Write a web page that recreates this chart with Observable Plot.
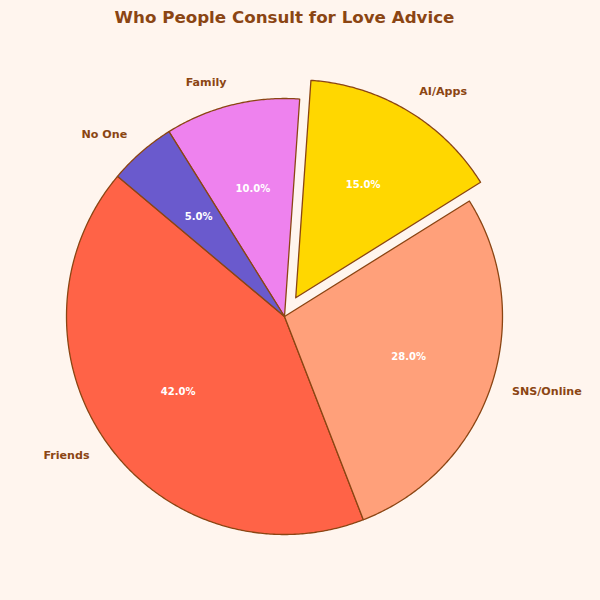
<!DOCTYPE html>
<html>
<head>
<meta charset="utf-8">
<script src="https://cdn.jsdelivr.net/npm/d3@7"></script>
<script src="https://cdn.jsdelivr.net/npm/@observablehq/plot@0.6"></script>
<style>
  html, body { margin: 0; padding: 0; background: #FFF5EE; }
  #chart svg { display: block; background: #FFF5EE; }
</style>
</head>
<body>
<div id="chart"></div>
<script>
const title = "Who People Consult for Love Advice";
const categories = ["Friends", "SNS/Online", "AI/Apps", "Family", "No One"];
const values = [42, 28, 15, 10, 5];
const explode = [0, 0, 0.1, 0, 0];
const colors = ["#FF6347", "#FFA07A", "#FFD700", "#EE82EE", "#6A5ACD"];
const startAngle = 140; // degrees, counter-clockwise from east

const total = d3.sum(values);
const slices = [];
let a = startAngle;
categories.forEach((name, i) => {
  const sweep = values[i] / total * 360;
  const a0 = a, a1 = a + sweep, mid = (a0 + a1) / 2;
  const rad = mid * Math.PI / 180;
  const ox = explode[i] * Math.cos(rad), oy = explode[i] * Math.sin(rad);
  slices.push({name, value: values[i], color: colors[i], a0, a1, mid, ox, oy});
  a = a1;
});

const polyPts = [];
slices.forEach(s => {
  polyPts.push({name: s.name, color: s.color, x: s.ox, y: s.oy});
  const n = Math.max(8, Math.ceil((s.a1 - s.a0) / 0.5));
  for (let k = 0; k <= n; k++) {
    const t = (s.a0 + (s.a1 - s.a0) * k / n) * Math.PI / 180;
    polyPts.push({name: s.name, color: s.color, x: s.ox + Math.cos(t), y: s.oy + Math.sin(t)});
  }
  polyPts.push({name: s.name, color: s.color, x: s.ox, y: s.oy});
});

const labels = slices.map(s => {
  const r = s.mid * Math.PI / 180;
  return {
    name: s.name,
    pct: (s.value / total * 100).toFixed(1) + "%",
    lx: s.ox + 1.1 * Math.cos(r), ly: s.oy + 1.1 * Math.sin(r),
    px: s.ox + 0.6 * Math.cos(r), py: s.oy + 0.6 * Math.sin(r),
    right: Math.cos(r) >= 0
  };
});

const W = 600, H = 600, R = 218, cx = 284, cy = 316;
const font = "DejaVu Sans, Liberation Sans, sans-serif";

const plot = Plot.plot({
  width: W, height: H,
  margin: 0,
  style: {background: "#FFF5EE", fontFamily: font},
  x: {domain: [-cx / R, (W - cx) / R], axis: null},
  y: {domain: [-(H - cy) / R, cy / R], axis: null},
  color: {type: "identity"},
  marks: [
    Plot.line(polyPts, {x: "x", y: "y", z: "name", fill: "color", stroke: "#8B4513", strokeWidth: 1.3, strokeLinejoin: "round", curve: "linear"}),
    Plot.text(labels.filter(d => d.right), {x: "lx", y: "ly", text: "name", textAnchor: "start", fill: "#8B4513", fontWeight: "bold", fontSize: 11.1, dy: -1}),
    Plot.text(labels.filter(d => !d.right), {x: "lx", y: "ly", text: "name", textAnchor: "end", fill: "#8B4513", fontWeight: "bold", fontSize: 11.1, dy: -1}),
    Plot.text(labels, {x: "px", y: "py", text: "pct", fill: "white", fontWeight: "bold", fontSize: 10, dy: -0.5}),
    Plot.text([title], {x: 0, frameAnchor: "top", dy: 17, lineAnchor: "middle", text: d => d, fill: "#8B4513", fontWeight: "bold", fontSize: 16.7})
  ]
});
document.getElementById("chart").appendChild(plot);
</script>
</body>
</html>
